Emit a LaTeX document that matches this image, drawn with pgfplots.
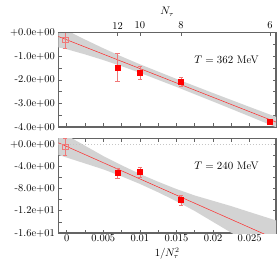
\documentclass[border=0pt]{standalone}
\usepackage{pgfplots}
\pgfplotsset{compat=1.18}
\usepgfplotslibrary{fillbetween}
\definecolor{axgray}{RGB}{100,100,100}
\definecolor{bandgray}{RGB}{211,211,211}
\definecolor{errred}{RGB}{240,120,120}
\begin{document}
\begin{tikzpicture}
\pgfplotsset{
  common/.style={
    scale only axis, width=217.7bp, height=94.3bp,
    xmin=-0.00115, xmax=0.0286,
    axis line style={axgray, line width=1.1pt},
    tick style={axgray, line width=0.7pt},
    major tick length=3.5bp, minor tick length=3.5bp,
    tick label style={font=\fontsize{10.5}{12}\selectfont},
    label style={font=\fontsize{10.5}{12}\selectfont},
    xtick={0,0.005,0.01,0.015,0.02,0.025},
    minor x tick num=1,
    scaled x ticks=false,
    ytick pos=both,
  },
  pts/.style={only marks, mark=square*, mark size=2.6pt, red, mark options={draw=red, fill=red},
    error bars/.cd, y dir=both, y explicit,
    error bar style={errred, line width=0.6pt},
    error mark options={rotate=90, errred, mark size=2.2pt, line width=0.6pt}},
  opn/.style={only marks, mark=square, mark size=2.6pt, errred, mark options={draw=errred, line width=0.6pt},
    error bars/.cd, y dir=both, y explicit,
    error bar style={errred, line width=0.6pt},
    error mark options={rotate=90, errred, mark size=2.2pt, line width=0.6pt}},
}
% ---------------- top panel ----------------
\begin{axis}[common, at={(0,0)}, anchor=south west,
  ymin=-4, ymax=0,
  ytick={-4,-3,-2,-1,0},
  yticklabels={-4.0e+00,-3.0e+00,-2.0e+00,-1.0e+00,+0.0e+00},
  minor y tick num=1,
  xticklabels={}, xtick pos=bottom,
]
\addplot[name path=up1, draw=none] coordinates {(-0.00115,0.30) (0,0.10) (0.0025,-0.29) (0.005,-0.66) (0.0075,-1.01) (0.01,-1.34) (0.015,-1.96) (0.02,-2.56) (0.025,-3.15) (0.0286,-3.569)};
\addplot[name path=lo1, draw=none] coordinates {(-0.00115,-0.62) (0,-0.70) (0.0025,-0.92) (0.005,-1.16) (0.0075,-1.42) (0.01,-1.70) (0.015,-2.30) (0.02,-2.92) (0.025,-3.55) (0.0286,-4.009)};
\addplot[bandgray] fill between[of=up1 and lo1];
\addplot[red!85, line width=0.5pt] coordinates {(-0.00115,-0.16) (0.0286,-3.79)};
\addplot[gray!45, dotted, line width=1pt] coordinates {(-0.00115,0) (0.0286,0)};
\addplot[opn] coordinates {(-0.0002,-0.30) +- (0,0.35)};
\addplot[pts] coordinates {(0.006944,-1.47) +- (0,0.60) (0.01,-1.70) +- (0,0.29) (0.015625,-2.07) +- (0,0.19) (0.027778,-3.76) +- (0,0.10)};
\node[anchor=east, font=\fontsize{11}{13}\selectfont] at (axis cs:0.0267,-1.17) {$T = 362$ MeV};
\end{axis}
\begin{axis}[scale only axis, width=217.7bp, height=94.3bp,
  at={(0,0)}, anchor=south west,
  xmin=-0.00115, xmax=0.0286, ymin=-4, ymax=0,
  axis x line*=top, axis y line=none,
  scaled x ticks=false,
  axis line style={axgray, line width=1.1pt},
  tick style={axgray, line width=0.7pt}, major tick length=3.5bp,
  tick label style={font=\fontsize{10.5}{12}\selectfont},
  label style={font=\fontsize{10.5}{12}\selectfont},
  xtick={0.006944,0.01,0.015625,0.027778},
  xticklabels={12,10,8,6},
  xlabel={$N_\tau$}, xlabel style={yshift=-1bp},
]
\addplot[draw=none] coordinates {(0,0)};
\end{axis}
% ---------------- bottom panel ----------------
\begin{axis}[common, at={(0,-11.7bp)}, anchor=north west,
  ymin=-16, ymax=1,
  ytick={-16,-12,-8,-4,0},
  yticklabels={-1.6e+01,-1.2e+01,-8.0e+00,-4.0e+00,+0.0e+00},
  minor y tick num=1,
  xticklabels={0,0.005,0.01,0.015,0.02,0.025},
  xticklabel style={inner sep=1.5pt},
  xlabel={$1/N_\tau^2$}, xlabel style={yshift=-3.5bp, inner sep=0.5pt},
]
\addplot[name path=up2, draw=none] coordinates {(-0.00115,2.473) (0,1.6) (0.0025,-0.2625) (0.005,-2.125) (0.0075,-3.7875) (0.01,-5.35) (0.0125,-6.7625) (0.015,-8.075) (0.0175,-9.2375) (0.02,-10.2) (0.0225,-11.1625) (0.025,-12.225) (0.0286,-13.731)};
\addplot[name path=lo2, draw=none] coordinates {(-0.00115,-1.927) (0,-2.4) (0.0025,-3.4625) (0.005,-4.525) (0.0075,-5.7875) (0.01,-7.15) (0.0125,-8.6625) (0.015,-10.275) (0.0175,-12.0375) (0.02,-14.0) (0.0225,-15.9625) (0.025,-17.825) (0.0286,-20.531)};
\addplot[bandgray] fill between[of=up2 and lo2];
\addplot[red!85, line width=0.5pt] coordinates {(-0.00115,0.273) (0.0286,-17.131)};
\addplot[gray!45, dotted, line width=1pt] coordinates {(-0.00115,0) (0.0286,0)};
\addplot[opn] coordinates {(-0.0002,-0.41) +- (0,1.5)};
\addplot[pts] coordinates {(0.006944,-5.2) +- (0,0.85) (0.01,-4.97) +- (0,0.9) (0.015625,-10.07) +- (0,0.95)};
\node[anchor=east, font=\fontsize{11}{13}\selectfont] at (axis cs:0.0267,-3.96) {$T = 240$ MeV};
\end{axis}
\pgfresetboundingbox
\path[use as bounding box] (-58.3bp,-140bp) rectangle (219.7bp,127bp);
\end{tikzpicture}
\end{document}
